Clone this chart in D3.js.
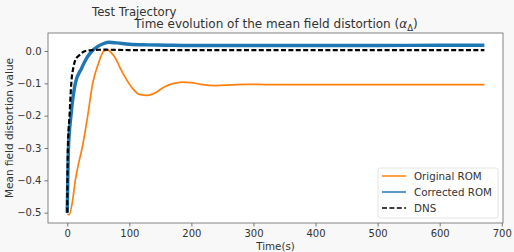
<!DOCTYPE html>
<html>
<head>
<meta charset="utf-8">
<script src="https://cdn.jsdelivr.net/npm/d3@7"></script>
<style>
  body { margin: 0; background: #f8f8f8; }
  svg { font-family: "DejaVu Sans", sans-serif; }
</style>
</head>
<body>
<div id="chart"></div>
<script>
// values
const origT = [0, 3, 8, 13, 18, 24, 33, 41, 50, 59, 65, 75, 90, 105, 116, 129, 140, 155, 170, 186, 200, 215, 240, 265, 290, 320, 400, 500, 600, 672];
const origV = [-0.505, -0.506, -0.47, -0.40, -0.35, -0.30, -0.20, -0.10, -0.04, 0.0, 0.003, -0.015, -0.07, -0.115, -0.134, -0.137, -0.131, -0.113, -0.101, -0.096, -0.098, -0.103, -0.107, -0.105, -0.103, -0.104, -0.104, -0.104, -0.104, -0.104];

const corrT = [0, 2, 6, 13, 23, 32, 40, 50, 60, 67, 80, 100, 130, 160, 200, 300, 400, 500, 600, 672];
const corrV = [-0.5, -0.3, -0.2, -0.1, -0.054, -0.02, 0.0, 0.015, 0.024, 0.027, 0.025, 0.021, 0.019, 0.018, 0.017, 0.017, 0.017, 0.017, 0.018, 0.018];

const dnsT = [0, 1, 3.7, 6.5, 10, 13, 20, 29, 40, 60, 100, 200, 300, 400, 500, 600, 672];
const dnsV = [-0.5, -0.3, -0.2, -0.1, -0.05, -0.028, -0.012, 0.0, 0.003, 0.004, 0.003, 0.003, 0.003, 0.003, 0.003, 0.003, 0.003];

const xTicks = [0, 100, 200, 300, 400, 500, 600, 700];
const yTicks = [0.0, -0.1, -0.2, -0.3, -0.4, -0.5];
const yTickLabels = ["0.0", "\u22120.1", "\u22120.2", "\u22120.3", "\u22120.4", "\u22120.5"];

const seriesNames = ["Original ROM", "Corrected ROM", "DNS"];

const width = 514, height = 252;
const margin = {top: 33, right: 11, bottom: 29, left: 48};

const svg = d3.select("#chart").append("svg")
    .attr("width", width)
    .attr("height", height);

const x = d3.scaleLinear().domain([-31, 702]).range([margin.left, width - margin.right]);
const y = d3.scaleLinear().domain([-0.532, 0.0557]).range([height - margin.bottom, margin.top]);

svg.append("rect")
    .attr("x", margin.left).attr("y", margin.top)
    .attr("width", width - margin.left - margin.right)
    .attr("height", height - margin.top - margin.bottom)
    .attr("fill", "#fff");

const line = d3.line()
    .x(d => x(d[0]))
    .y(d => y(d[1]))
    .curve(d3.curveMonotoneX);

const zip = (t, v) => t.map((d, i) => [d, v[i]]);

const series = [
    {name: seriesNames[0], data: zip(origT, origV), color: "#ff7f0e", w: 1.7, dash: null},
    {name: seriesNames[1], data: zip(corrT, corrV), color: "#1f77b4", w: 3.4, dash: null},
    {name: seriesNames[2], data: zip(dnsT, dnsV), color: "#000", w: 2.2, dash: "5,2.4"}
];

const plot = svg.append("g");
plot.selectAll("path")
    .data(series)
    .enter()
    .append("path")
    .attr("d", d => line(d.data))
    .attr("fill", "none")
    .attr("stroke", d => d.color)
    .attr("stroke-width", d => d.w)
    .attr("stroke-dasharray", d => d.dash);

// axes
const xAxis = d3.axisBottom(x).tickValues(xTicks).tickSize(3.5).tickPadding(3);
const yAxis = d3.axisLeft(y).tickValues(yTicks).tickSize(3.5).tickPadding(3)
    .tickFormat((d, i) => yTickLabels[i]);

const gx = svg.append("g")
    .attr("transform", "translate(0," + (height - margin.bottom) + ")")
    .call(xAxis);
const gy = svg.append("g")
    .attr("transform", "translate(" + margin.left + ",0)")
    .call(yAxis);

[gx, gy].forEach(g => {
    g.select(".domain").remove();
    g.selectAll(".tick line").attr("stroke", "#555").attr("stroke-width", 0.8);
    g.selectAll(".tick text").attr("fill", "#333").style("font-size", "10px").style("font-family", "DejaVu Sans");
});

// frame
svg.append("rect")
    .attr("x", margin.left).attr("y", margin.top)
    .attr("width", width - margin.left - margin.right)
    .attr("height", height - margin.top - margin.bottom)
    .attr("fill", "none")
    .attr("stroke", "#666")
    .attr("stroke-width", 0.8);

// titles
svg.append("text")
    .attr("x", 92).attr("y", 16)
    .attr("fill", "#333")
    .style("font-size", "11.7px")
    .text("Test Trajectory");

const title = svg.append("text")
    .attr("x", 276).attr("y", 28)
    .attr("text-anchor", "middle")
    .attr("fill", "#333")
    .style("font-size", "12px");
title.append("tspan").text("Time evolution of the mean field distortion (");
title.append("tspan").attr("font-style", "italic").text("\u03b1");
title.append("tspan").attr("dy", 2.5).style("font-size", "8.5px").text("\u0394");
title.append("tspan").attr("dy", -2.5).text(")");

svg.append("text")
    .attr("x", (margin.left + width - margin.right) / 2).attr("y", 250)
    .attr("text-anchor", "middle")
    .attr("fill", "#333")
    .style("font-size", "10.3px")
    .text("Time(s)");

svg.append("text")
    .attr("transform", "translate(13," + ((margin.top + height - margin.bottom) / 2) + ") rotate(-90)")
    .attr("text-anchor", "middle")
    .attr("fill", "#333")
    .style("font-size", "10.5px")
    .text("Mean field distortion value");

// legend
const legend = svg.append("g").attr("transform", "translate(378,168)");
legend.append("rect")
    .attr("width", 120).attr("height", 50)
    .attr("rx", 2)
    .attr("fill", "#fff")
    .attr("fill-opacity", 0.8)
    .attr("stroke", "#ddd")
    .attr("stroke-width", 0.8);

const item = legend.selectAll("g.item")
    .data(series)
    .enter()
    .append("g")
    .attr("class", "item")
    .attr("transform", (d, i) => "translate(0," + (8 + i * 16) + ")");
item.append("line")
    .attr("x1", 4).attr("x2", 28)
    .attr("stroke", d => d.color)
    .attr("stroke-width", 1.5)
    .attr("stroke-dasharray", d => d.dash);
item.append("text")
    .attr("x", 36).attr("dy", "0.35em")
    .attr("fill", "#333")
    .style("font-size", "10.3px")
    .text(d => d.name);
</script>
</body>
</html>
